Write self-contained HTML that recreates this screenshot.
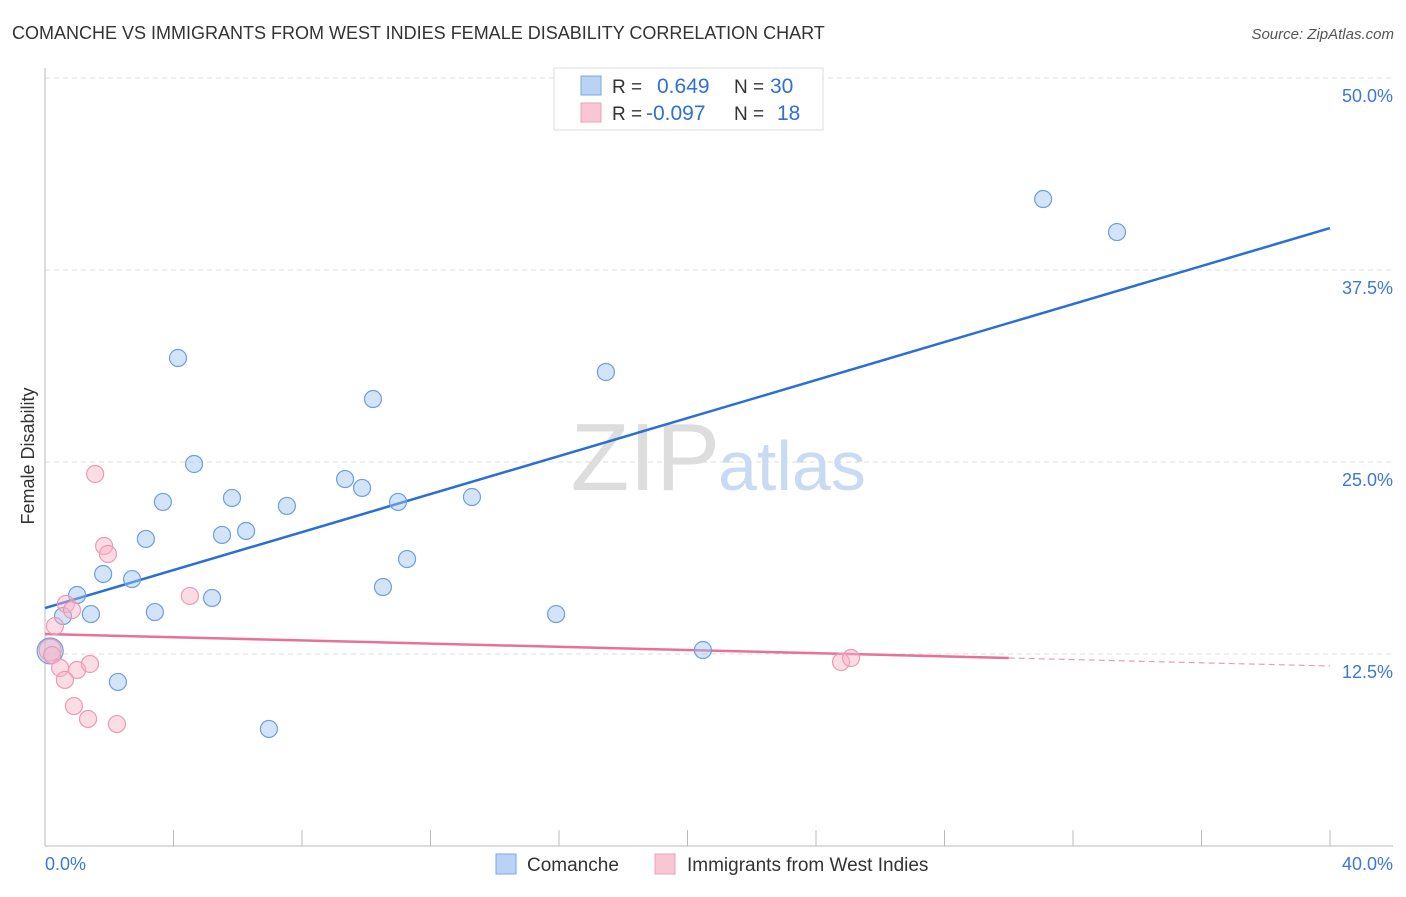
<!DOCTYPE html>
<html><head><meta charset="utf-8"><style>
body{margin:0;background:#fff;font-family:"Liberation Sans",sans-serif;}
svg text{font-family:"Liberation Sans",sans-serif;}
</style></head><body>
<svg id="chart" width="1406" height="892">
<text x="12" y="39" font-size="18" fill="#333">COMANCHE VS IMMIGRANTS FROM WEST INDIES FEMALE DISABILITY CORRELATION CHART</text>
<text x="1394" y="39" font-size="15" fill="#555" text-anchor="end" font-style="italic">Source: ZipAtlas.com</text>
<text x="34" y="456" font-size="18" fill="#333" text-anchor="middle" transform="rotate(-90 34 456)">Female Disability</text>
<g id="grid"></g>
<g id="axes"></g>
<text x="720" y="490" font-size="96" fill="#ddd" text-anchor="end" font-family="Liberation Serif">ZIP</text>
<text x="718" y="490" font-size="70" fill="#c9dbf2">atlas</text>
<g id="lines"></g>
<g id="points"></g>
<g>
<rect x="554" y="68" width="269" height="62" fill="#fff" stroke="#ddd"/>
<rect x="581" y="76" width="20" height="19" fill="#b9d3f5" stroke="#7aa7e6"/>
<rect x="581" y="103" width="20" height="19" fill="#f9c6d6" stroke="#eea0b8"/>
<text x="612" y="93" font-size="19" fill="#333">R =</text>
<text x="657" y="93" font-size="21" fill="#2f6fd6">0.649</text>
<text x="734" y="93" font-size="19" fill="#333">N =</text>
<text x="770" y="93" font-size="21" fill="#2f6fd6">30</text>
<text x="612" y="120" font-size="19" fill="#333">R =</text>
<text x="646" y="120" font-size="21" fill="#2f6fd6">-0.097</text>
<text x="734" y="120" font-size="19" fill="#333">N =</text>
<text x="777" y="120" font-size="21" fill="#2f6fd6">18</text>
</g>
<g>
<rect x="496" y="854" width="20" height="20" fill="#b9d3f5" stroke="#7aa7e6"/>
<text x="527" y="871" font-size="19" fill="#333">Comanche</text>
<rect x="655" y="854" width="20" height="20" fill="#f9c6d6" stroke="#eea0b8"/>
<text x="687" y="871" font-size="19" fill="#333">Immigrants from West Indies</text>
</g>
</svg>
<script>
const blueX=[31.07,33.37,4.14,17.46,10.21,4.64,9.34,9.87,3.67,5.82,7.53,10.99,13.29,3.14,5.51,6.26,11.27,1.81,2.71,10.52,1.00,5.20,3.42,1.43,0.56,15.91,20.48,2.27,6.97,0.16];
const blueY=[42.12,39.97,31.77,30.86,29.10,24.87,23.89,23.31,22.40,22.66,22.14,22.40,22.72,19.99,20.25,20.51,18.68,17.71,17.38,16.86,16.34,16.15,15.23,15.10,14.97,15.10,12.76,10.68,7.62,12.70];
const pinkX=[1.56,1.84,1.96,4.51,0.65,0.84,0.31,0.16,0.22,0.47,1.00,1.40,0.62,0.90,1.34,2.24,24.78,25.09];
const pinkY=[24.22,19.53,19.01,16.28,15.76,15.36,14.32,12.76,12.43,11.59,11.46,11.85,10.81,9.11,8.27,7.94,11.98,12.24];
const blueTrend=[15.49,40.23];
const pinkTrend=[13.80,11.72];
const yTicks=[12.5,25.0,37.5,50.0];
const xTickLabels=["0.0%","40.0%"];
const NS="http://www.w3.org/2000/svg";
const sx=v=>45+v/40*1285;
const sy=v=>846-v/12.5*192;
function mk(tag,attrs,parent){const e=document.createElementNS(NS,tag);for(const k in attrs)e.setAttribute(k,attrs[k]);parent.appendChild(e);return e;}
const grid=document.getElementById('grid'),axes=document.getElementById('axes'),lines=document.getElementById('lines'),pts=document.getElementById('points');
yTicks.forEach(t=>{
 const l=mk('line',{x1:45,x2:1393,y1:sy(t),y2:sy(t),stroke:'#ddd','stroke-dasharray':'5,4'},grid);
 
 
 const tx=mk('text',{x:1393,y:sy(t)+24,'font-size':18,fill:'#3b78d8','text-anchor':'end'},grid);
 tx.textContent=t.toFixed(1)+'%';
 
 
});
const ya=mk('line',{x1:45,x2:45,y1:68,y2:846,stroke:'#bbb'},axes);


const xa=mk('line',{x1:45,x2:1393,y1:846,y2:846,stroke:'#bbb'},axes);


for(let i=0;i<=40;i+=4){
 const t=mk('line',{x1:sx(i),x2:sx(i),y1:830,y2:846,stroke:'#bbb'},axes);
 
 
}
const xl0=mk('text',{x:45,y:870,'font-size':18,fill:'#3b78d8'},axes);
xl0.textContent=xTickLabels[0];


const xl1=mk('text',{x:1393,y:870,'font-size':18,fill:'#3b78d8','text-anchor':'end'},axes);
xl1.textContent=xTickLabels[1];


const pv=x=>pinkTrend[0]+(pinkTrend[1]-pinkTrend[0])*x/40;
const bl=mk('line',{x1:sx(0),y1:sy(blueTrend[0]),x2:sx(40),y2:sy(blueTrend[1]),stroke:'#2a6fd6','stroke-width':2.5},lines);


const pl=mk('line',{x1:sx(0),y1:sy(pv(0)),x2:sx(30),y2:sy(pv(30)),stroke:'#e8709a','stroke-width':2.5},lines);


const pd=mk('line',{x1:sx(30),y1:sy(pv(30)),x2:sx(40),y2:sy(pv(40)),stroke:'#e8a0b8','stroke-width':1.2,'stroke-dasharray':'6,4'},lines);


blueX.forEach((x,i)=>{
 const c=mk('circle',{cx:sx(x),cy:sy(blueY[i]),r:(i===29?13:8.5),fill:'rgba(160,196,240,0.45)',stroke:'#6b9fe0','stroke-width':1.2},pts);
 
 
});
pinkX.forEach((x,i)=>{
 const c=mk('circle',{cx:sx(x),cy:sy(pinkY[i]),r:(i===7?11:8.5),fill:'rgba(248,180,200,0.45)',stroke:'#ec9ab4','stroke-width':1.2},pts);
 
 
});
</script>
</body></html>
